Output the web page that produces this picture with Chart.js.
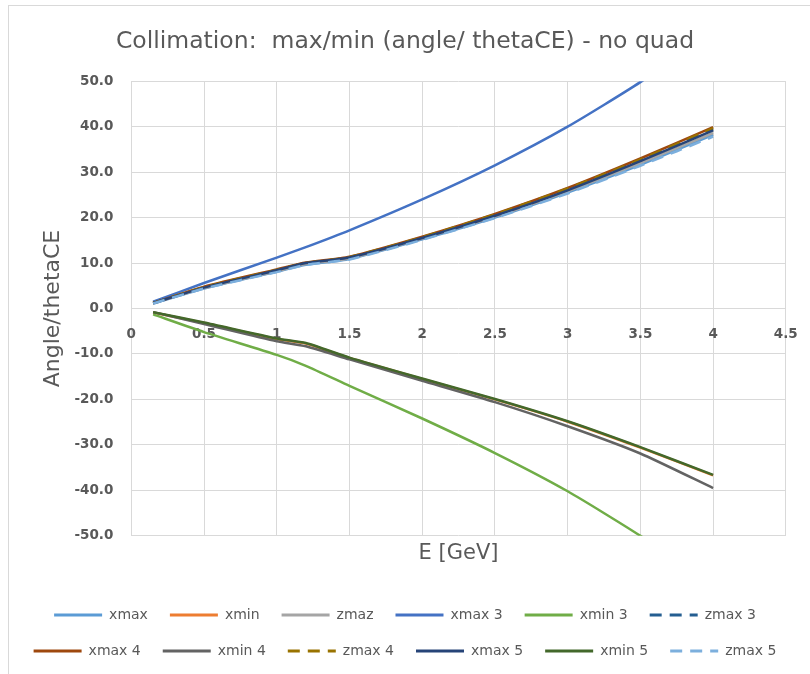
<!DOCTYPE html>
<html>
<head>
<meta charset="utf-8">
<script src="https://cdn.jsdelivr.net/npm/chart.js@4.4.1/dist/chart.umd.min.js"></script>
<style>
  html, body { margin: 0; padding: 0; background: #fff; overflow: hidden; }
  #frame { position: absolute; left: 8px; top: 5px; width: 900px; height: 800px; border: 1px solid #d9d9d9; }
  #wrap { position: absolute; left: 0; top: 0; width: 810px; height: 674px; }
</style>
</head>
<body>
<div id="frame"></div>
<div id="wrap"><canvas id="chart1"></canvas></div>
<script>
// energy points (GeV)
var energies = [0.15, 0.5, 1.0, 1.2, 1.5, 2.0, 2.5, 3.0, 3.5, 4.0];

var seriesNames = ['xmax', 'xmin', 'zmaz', 'xmax 3', 'xmin 3', 'zmax 3',
                   'xmax 4', 'xmin 4', 'zmax 4', 'xmax 5', 'xmin 5', 'zmax 5'];

var xmax  = [1.1, 4.4, 8.1, 9.6, 10.9, 15.2, 20.0, 25.5, 31.6, 38.2];
var xmin  = [-0.9, -3.2, -6.7, -7.7, -10.9, -15.5, -20.0, -24.9, -30.6, -36.7];
var zmaz  = [1.1, 4.5, 8.2, 9.8, 11.0, 15.4, 20.2, 25.8, 32.0, 38.6];
var xmax3 = [1.5, 5.6, 11.2, 13.5, 17.2, 24.0, 31.5, 40.0, 49.8, 61.0];
var xmin3 = [-1.3, -5.2, -10.2, -12.6, -17.0, -24.2, -31.8, -40.2, -50.0, -61.0];
var zmax3 = [1.2, 4.6, 8.4, 10.0, 11.2, 15.6, 20.5, 26.2, 32.6, 39.4];
var xmax4 = [1.2, 4.8, 8.6, 10.1, 11.4, 15.8, 20.8, 26.5, 33.0, 39.9];
var xmin4 = [-0.8, -3.4, -7.2, -8.3, -11.2, -15.9, -20.6, -25.9, -31.9, -39.5];
var zmax4 = [1.2, 4.7, 8.5, 10.0, 11.3, 15.7, 20.7, 26.4, 32.8, 39.7];
var xmax5 = [1.2, 4.6, 8.4, 10.0, 11.2, 15.5, 20.4, 26.0, 32.4, 39.2];
var xmin5 = [-0.8, -3.1, -6.6, -7.6, -10.8, -15.4, -19.9, -24.8, -30.5, -36.6];
var zmax5 = [1.1, 4.4, 8.0, 9.6, 10.8, 15.1, 19.9, 25.3, 31.4, 37.8];

var xTicks = [0, 0.5, 1, 1.5, 2, 2.5, 3, 3.5, 4, 4.5];
var yTicks = [-50, -40, -30, -20, -10, 0, 10, 20, 30, 40, 50];

var seriesValues = [xmax, xmin, zmaz, xmax3, xmin3, zmax3, xmax4, xmin4, zmax4, xmax5, xmin5, zmax5];
var colors = ['#5B9BD5', '#ED7D31', '#A5A5A5', '#4472C4', '#70AD47', '#255E91',
              '#9E480E', '#636363', '#997300', '#264478', '#43682B', '#7CAFDD'];
var dashed = [false, false, false, false, false, true, false, false, true, false, false, true];

var grey = '#595959';
var font = '"DejaVu Sans", sans-serif';

function makeDatasets() {
    var sets = [];
    for (var i = 0; i < seriesNames.length; i++) {
        var pts = [];
        for (var j = 0; j < energies.length; j++) {
            pts.push({ x: energies[j], y: seriesValues[i][j] });
        }
        sets.push({
            label: seriesNames[i],
            data: pts,
            borderColor: colors[i],
            backgroundColor: colors[i],
            borderWidth: 2.5,
            borderDash: dashed[i] ? [12, 8] : [],
            pointRadius: 0,
            tension: 0.2,
            order: seriesNames.length - i // later series on top, like Excel
        });
    }
    return sets;
}

function legendLabels(chart) {
    var items = Chart.defaults.plugins.legend.labels.generateLabels(chart);
    items.forEach(function(it) {
        var ds = chart.data.datasets[it.datasetIndex];
        it.strokeStyle = ds.borderColor;
        it.lineWidth = 3;
        it.lineDash = ds.borderDash;
        it.pointStyle = 'line';
    });
    return items;
}

function makeChart() {
    var ctx = document.getElementById('chart1').getContext('2d');
    var chart1 = new Chart(ctx, {
        type: 'line',
        data: { datasets: makeDatasets() },
        options: {
            responsive: true,
            maintainAspectRatio: false,
            animation: false,
            layout: { padding: { left: 0, right: 0, top: 0, bottom: 6 } },
            plugins: {
                title: {
                    display: true,
                    text: 'Collimation:  max/min (angle/ thetaCE) - no quad',
                    color: grey,
                    font: { family: font, size: 23.5, weight: 'normal' },
                    padding: { top: 28, bottom: 25 }
                },
                legend: {
                    position: 'bottom',
                    labels: {
                        usePointStyle: true,
                        pointStyle: 'line',
                        pointStyleWidth: 48,
                        color: grey,
                        padding: 22,
                        font: { family: font, size: 14 },
                        generateLabels: legendLabels,
                        sort: function(a, b) { return a.datasetIndex - b.datasetIndex; }
                    }
                },
                tooltip: { enabled: false }
            },
            scales: {
                x: {
                    type: 'linear',
                    min: 0,
                    max: 4.5,
                    afterBuildTicks: function(axis) { axis.ticks = xTicks.map(function(v) { return { value: v }; }); },
                    ticks: { display: false },
                    grid: { color: '#d9d9d9', drawTicks: false },
                    border: { display: false },
                    title: {
                        display: true,
                        text: 'E [GeV]',
                        color: grey,
                        font: { family: font, size: 21 },
                        padding: { top: 5, bottom: 20 }
                    }
                },
                x2: {
                    type: 'linear',
                    axis: 'x',
                    position: { y: 0 },
                    min: 0,
                    max: 4.5,
                    afterBuildTicks: function(axis) { axis.ticks = xTicks.map(function(v) { return { value: v }; }); },
                    ticks: {
                        color: grey,
                        padding: 10,
                        maxRotation: 0,
                        font: { family: font, size: 13.5, weight: 'bold' },
                        callback: function(v) { return String(v); }
                    },
                    grid: { display: false },
                    border: { display: false }
                },
                y: {
                    min: -50,
                    max: 50,
                    afterBuildTicks: function(axis) { axis.ticks = yTicks.map(function(v) { return { value: v }; }); },
                    ticks: {
                        color: grey,
                        padding: 18,
                        font: { family: font, size: 13.5, weight: 'bold' },
                        callback: function(v) { return v.toFixed(1); }
                    },
                    grid: { color: '#d9d9d9', drawTicks: false },
                    border: { display: false },
                    title: {
                        display: true,
                        text: 'Angle/thetaCE',
                        color: grey,
                        font: { family: font, size: 22 },
                        padding: { top: 40, bottom: -10 }
                    }
                },
                // empty right-hand spacer so the legend can use the full width
                ySpace: {
                    position: 'right',
                    ticks: { display: false },
                    grid: { display: false },
                    border: { display: false },
                    title: { display: true, text: '', font: { size: 1 }, padding: { top: 15, bottom: 0 } }
                }
            }
        }
    });
}

window.onload = function() {
    makeChart();
};
</script>
</body>
</html>
